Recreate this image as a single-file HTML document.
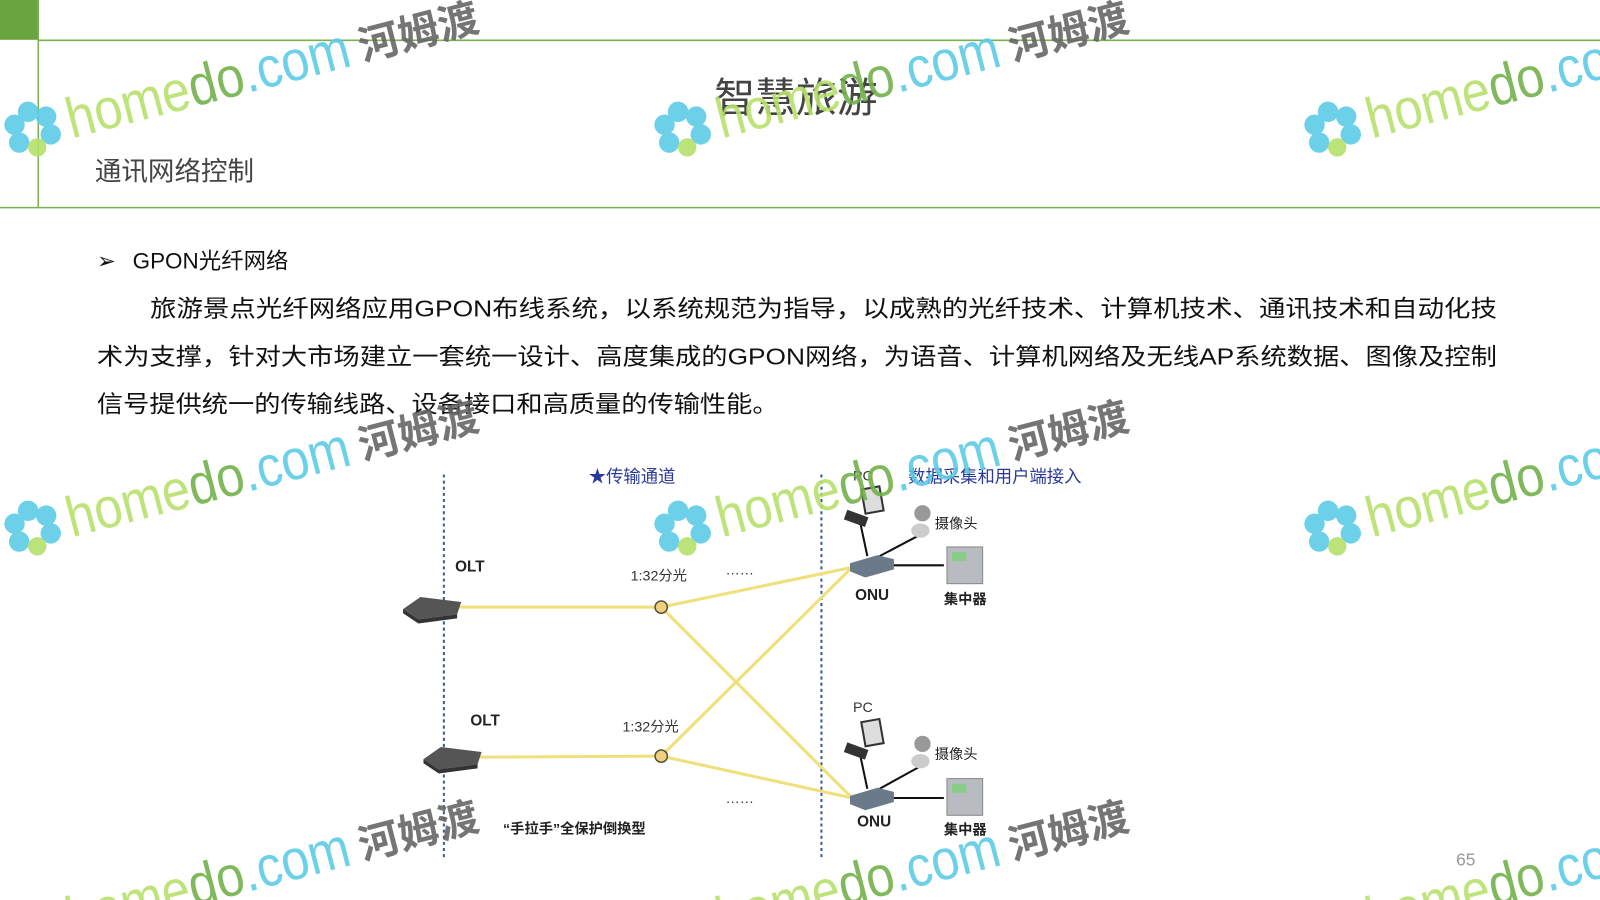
<!DOCTYPE html>
<html><head><meta charset="utf-8"><style>
html,body{margin:0;padding:0;background:#fff;width:1600px;height:900px;overflow:hidden;}
svg{display:block;overflow:hidden;}
text{font-family:"Liberation Sans","Noto Sans CJK SC",sans-serif;}
</style></head><body>
<svg width="1600" height="900" viewBox="0 0 1568 882" preserveAspectRatio="none" xmlns="http://www.w3.org/2000/svg">
<rect width="1568" height="882" fill="#fff"/>
<rect x="0" y="0" width="37" height="39" fill="#6aa43e"/>
<line x1="37" y1="39.5" x2="1568" y2="39.5" stroke="#7ab050" stroke-width="1.5"/>
<line x1="37.5" y1="0" x2="37.5" y2="203" stroke="#7ab050" stroke-width="1.5"/>
<line x1="0" y1="203.5" x2="1568" y2="203.5" stroke="#7ab050" stroke-width="1.5"/>

<text x="780" y="110" font-size="40" fill="#444" text-anchor="middle">智慧旅游</text>
<text x="93" y="177" font-size="26" fill="#444">通讯网络控制</text>

<text x="95" y="263" font-size="22" fill="#111">➢</text>
<text x="130" y="263" font-size="22" fill="#111">GPON光纤网络</text>
<text x="147" y="310" font-size="23" fill="#111" textLength="1320" lengthAdjust="spacingAndGlyphs">旅游景点光纤网络应用GPON布线系统，以系统规范为指导，以成熟的光纤技术、计算机技术、通讯技术和自动化技</text>
<text x="95" y="357" font-size="23" fill="#111" textLength="1372" lengthAdjust="spacingAndGlyphs">术为支撑，针对大市场建立一套统一设计、高度集成的GPON网络，为语音、计算机网络及无线AP系统数据、图像及控制</text>
<text x="95" y="404" font-size="23" fill="#111" textLength="668" lengthAdjust="spacingAndGlyphs">信号提供统一的传输线路、设备接口和高质量的传输性能。</text>

<line x1="435" y1="465" x2="435" y2="840" stroke="#3a5aa0" stroke-width="2" stroke-dasharray="3,3"/>
<line x1="805" y1="465" x2="805" y2="840" stroke="#3a5aa0" stroke-width="2" stroke-dasharray="3,3"/>
<text x="577" y="473" font-size="17" fill="#2a3a9a">★传输通道</text>
<text x="890" y="473" font-size="17" fill="#2a3a9a">数据采集和用户端接入</text>

<g stroke="#f0e07a" stroke-width="3" fill="none">
<line x1="450" y1="595" x2="648" y2="595"/>
<line x1="470" y1="742" x2="648" y2="741"/>
<line x1="648" y1="595" x2="835" y2="556"/>
<line x1="648" y1="595" x2="835" y2="782"/>
<line x1="648" y1="741" x2="835" y2="556"/>
<line x1="648" y1="741" x2="835" y2="782"/>
</g>
<polygon points="395,597 412,585 452,590 448,602 410,607" fill="#555"/>
<polygon points="395,597 410,607 448,602 448,606 410,611 395,601" fill="#333"/>
<polygon points="415,744 432,732 472,737 468,749 430,754" fill="#555"/>
<polygon points="415,744 430,754 468,749 468,753 430,758 415,748" fill="#333"/>
<text x="446" y="560" font-size="15" font-weight="bold" fill="#222">OLT</text>
<text x="461" y="711" font-size="15" font-weight="bold" fill="#222">OLT</text>
<circle cx="648" cy="595" r="6" fill="#f0d080" stroke="#553" stroke-width="1.5"/>
<circle cx="648" cy="741" r="6" fill="#f0d080" stroke="#553" stroke-width="1.5"/>
<text x="618" y="569" font-size="14" fill="#333">1:32分光</text>
<text x="610" y="717" font-size="14" fill="#333">1:32分光</text>
<text x="711" y="563" font-size="14" fill="#333">……</text>
<text x="711" y="787" font-size="14" fill="#333">……</text>
<text x="493" y="817" font-size="14" font-weight="bold" fill="#222">“手拉手”全保护倒换型</text>

<g>
<line x1="850" y1="545" x2="843" y2="512" stroke="#111" stroke-width="2"/>
<line x1="862" y1="545" x2="900" y2="525" stroke="#111" stroke-width="2"/>
<line x1="875" y1="554" x2="925" y2="554" stroke="#111" stroke-width="2"/>
<polygon points="833,552 860,544 876,548 876,558 848,566 833,560" fill="#6a7a8a"/>
<rect x="828" y="503" width="22" height="10" fill="#333" transform="rotate(20 839 508)"/>
<rect x="846" y="478" width="18" height="24" fill="#ddd" stroke="#333" stroke-width="2" transform="rotate(-10 855 490)"/>
<circle cx="904" cy="503" r="8" fill="#999"/>
<ellipse cx="902" cy="520" rx="9" ry="7" fill="#ccc"/>
<rect x="928" y="536" width="35" height="36" fill="#b8bcc0" stroke="#888"/>
<rect x="933" y="541" width="14" height="9" fill="#8c8"/>
<text x="836" y="471" font-size="14" fill="#333">PC</text>
<text x="916" y="518" font-size="14" fill="#222">摄像头</text>
<text x="838" y="588" font-size="15" font-weight="bold" fill="#222">ONU</text>
<text x="925" y="592" font-size="14" font-weight="bold" fill="#222">集中器</text>
</g>
<g>
<line x1="850" y1="773" x2="843" y2="740" stroke="#111" stroke-width="2"/>
<line x1="862" y1="773" x2="900" y2="752" stroke="#111" stroke-width="2"/>
<line x1="875" y1="782" x2="925" y2="782" stroke="#111" stroke-width="2"/>
<polygon points="833,780 860,772 876,776 876,786 848,794 833,788" fill="#6a7a8a"/>
<rect x="828" y="731" width="22" height="10" fill="#333" transform="rotate(20 839 736)"/>
<rect x="846" y="706" width="18" height="24" fill="#ddd" stroke="#333" stroke-width="2" transform="rotate(-10 855 718)"/>
<circle cx="904" cy="729" r="8" fill="#999"/>
<ellipse cx="902" cy="746" rx="9" ry="7" fill="#ccc"/>
<rect x="928" y="763" width="35" height="36" fill="#b8bcc0" stroke="#888"/>
<rect x="933" y="768" width="14" height="9" fill="#8c8"/>
<text x="836" y="698" font-size="14" fill="#333">PC</text>
<text x="916" y="744" font-size="14" fill="#222">摄像头</text>
<text x="840" y="810" font-size="15" font-weight="bold" fill="#222">ONU</text>
<text x="925" y="818" font-size="14" font-weight="bold" fill="#222">集中器</text>
</g>

<text x="1427" y="848" font-size="17" fill="#999">65</text>

<g opacity="0.9">
<g transform="translate(32,127) rotate(-14.5)">
<g fill="#5ccbe6"><circle cx="0" cy="-18" r="10"/><circle cx="16" cy="-9" r="10"/><circle cx="16" cy="9" r="10"/><circle cx="-16" cy="-9" r="10"/><circle cx="-16" cy="9" r="10"/><circle cx="0" cy="18" r="9" fill="#b5e06a"/></g>
<text x="35" y="18" font-size="56" textLength="285" lengthAdjust="spacingAndGlyphs"><tspan fill="#b8e06c">home</tspan><tspan fill="#72b04a">do</tspan><tspan fill="#5ccbe6">.com</tspan></text>
<text x="330" y="16" font-size="40" font-weight="bold" fill="#666">河姆渡</text>
</g>
<g transform="translate(669,127) rotate(-14.5)">
<g fill="#5ccbe6"><circle cx="0" cy="-18" r="10"/><circle cx="16" cy="-9" r="10"/><circle cx="16" cy="9" r="10"/><circle cx="-16" cy="-9" r="10"/><circle cx="-16" cy="9" r="10"/><circle cx="0" cy="18" r="9" fill="#b5e06a"/></g>
<text x="35" y="18" font-size="56" textLength="285" lengthAdjust="spacingAndGlyphs"><tspan fill="#b8e06c">home</tspan><tspan fill="#72b04a">do</tspan><tspan fill="#5ccbe6">.com</tspan></text>
<text x="330" y="16" font-size="40" font-weight="bold" fill="#666">河姆渡</text>
</g>
<g transform="translate(1306,127) rotate(-14.5)">
<g fill="#5ccbe6"><circle cx="0" cy="-18" r="10"/><circle cx="16" cy="-9" r="10"/><circle cx="16" cy="9" r="10"/><circle cx="-16" cy="-9" r="10"/><circle cx="-16" cy="9" r="10"/><circle cx="0" cy="18" r="9" fill="#b5e06a"/></g>
<text x="35" y="18" font-size="56" textLength="285" lengthAdjust="spacingAndGlyphs"><tspan fill="#b8e06c">home</tspan><tspan fill="#72b04a">do</tspan><tspan fill="#5ccbe6">.com</tspan></text>
</g>
<g transform="translate(32,518) rotate(-14.5)">
<g fill="#5ccbe6"><circle cx="0" cy="-18" r="10"/><circle cx="16" cy="-9" r="10"/><circle cx="16" cy="9" r="10"/><circle cx="-16" cy="-9" r="10"/><circle cx="-16" cy="9" r="10"/><circle cx="0" cy="18" r="9" fill="#b5e06a"/></g>
<text x="35" y="18" font-size="56" textLength="285" lengthAdjust="spacingAndGlyphs"><tspan fill="#b8e06c">home</tspan><tspan fill="#72b04a">do</tspan><tspan fill="#5ccbe6">.com</tspan></text>
<text x="330" y="16" font-size="40" font-weight="bold" fill="#666">河姆渡</text>
</g>
<g transform="translate(669,518) rotate(-14.5)">
<g fill="#5ccbe6"><circle cx="0" cy="-18" r="10"/><circle cx="16" cy="-9" r="10"/><circle cx="16" cy="9" r="10"/><circle cx="-16" cy="-9" r="10"/><circle cx="-16" cy="9" r="10"/><circle cx="0" cy="18" r="9" fill="#b5e06a"/></g>
<text x="35" y="18" font-size="56" textLength="285" lengthAdjust="spacingAndGlyphs"><tspan fill="#b8e06c">home</tspan><tspan fill="#72b04a">do</tspan><tspan fill="#5ccbe6">.com</tspan></text>
<text x="330" y="16" font-size="40" font-weight="bold" fill="#666">河姆渡</text>
</g>
<g transform="translate(1306,518) rotate(-14.5)">
<g fill="#5ccbe6"><circle cx="0" cy="-18" r="10"/><circle cx="16" cy="-9" r="10"/><circle cx="16" cy="9" r="10"/><circle cx="-16" cy="-9" r="10"/><circle cx="-16" cy="9" r="10"/><circle cx="0" cy="18" r="9" fill="#b5e06a"/></g>
<text x="35" y="18" font-size="56" textLength="285" lengthAdjust="spacingAndGlyphs"><tspan fill="#b8e06c">home</tspan><tspan fill="#72b04a">do</tspan><tspan fill="#5ccbe6">.com</tspan></text>
</g>
<g transform="translate(32,910) rotate(-14.5)">
<text x="35" y="18" font-size="56" textLength="285" lengthAdjust="spacingAndGlyphs"><tspan fill="#b8e06c">home</tspan><tspan fill="#72b04a">do</tspan><tspan fill="#5ccbe6">.com</tspan></text>
<text x="330" y="16" font-size="40" font-weight="bold" fill="#666">河姆渡</text>
</g>
<g transform="translate(669,910) rotate(-14.5)">
<text x="35" y="18" font-size="56" textLength="285" lengthAdjust="spacingAndGlyphs"><tspan fill="#b8e06c">home</tspan><tspan fill="#72b04a">do</tspan><tspan fill="#5ccbe6">.com</tspan></text>
<text x="330" y="16" font-size="40" font-weight="bold" fill="#666">河姆渡</text>
</g>
<g transform="translate(1306,910) rotate(-14.5)">
<text x="35" y="18" font-size="56" textLength="285" lengthAdjust="spacingAndGlyphs"><tspan fill="#b8e06c">home</tspan><tspan fill="#72b04a">do</tspan><tspan fill="#5ccbe6">.com</tspan></text>
</g>
</g>
</svg>
</body></html>
